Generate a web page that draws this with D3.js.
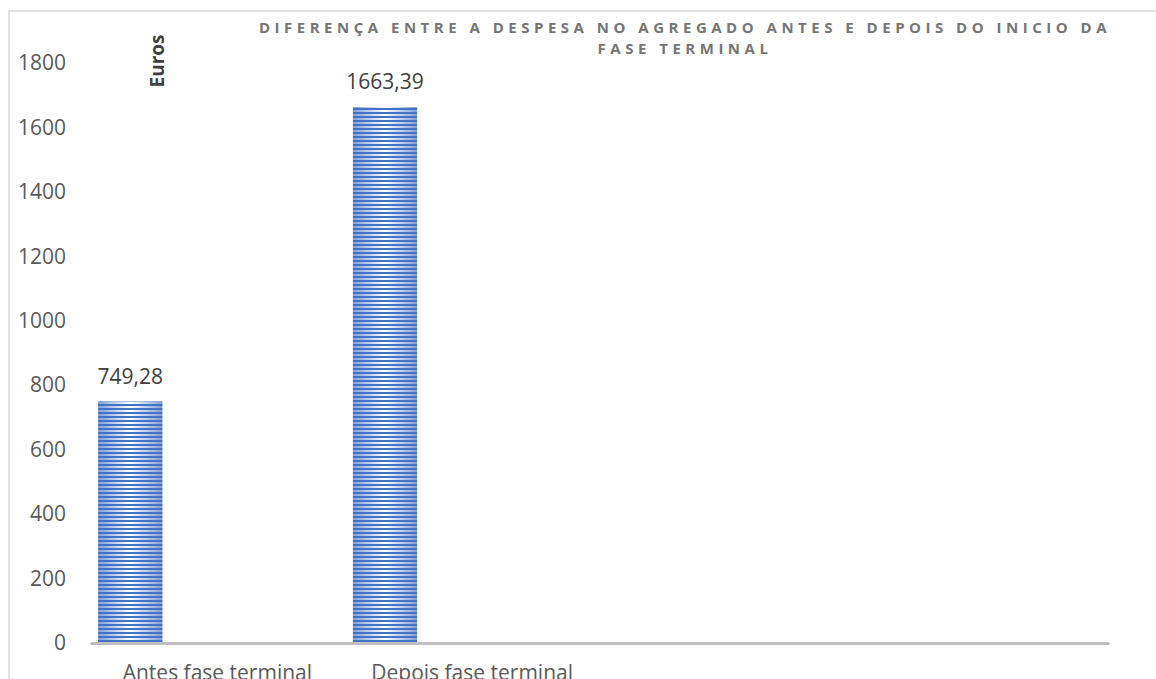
<!DOCTYPE html>
<html>
<head>
<meta charset="utf-8">
<script src="https://cdn.jsdelivr.net/npm/d3@7/dist/d3.min.js"></script>
<style>
    body { margin: 0; background: #ffffff; }
    svg { display: block; }
</style>
</head>
<body>
<div id="chart"></div>
<script>

// Chart data
var categories = ['Antes fase terminal', 'Depois fase terminal'];
var despesa = [749.28, 1663.39];
var yTicks = [0, 200, 400, 600, 800, 1000, 1200, 1400, 1600, 1800];
var titleLines = [
    'DIFERENÇA ENTRE A DESPESA NO AGREGADO ANTES E DEPOIS DO INICIO DA',
    'FASE TERMINAL'
];
var yLabel = 'Euros';

var width = 1156;
var height = 679;
var slotCount = 4;  // the category axis keeps room for four slots

var plot = {left: 90, right: 1109, top: 63, bottom: 643};

var ptBR = d3.formatLocale({decimal: ',', thousands: '.', grouping: [3], currency: ['', ' €']});
var fmtValue = ptBR.format('.2f');

/**
 * Add the striped fill used by the bars: a pale horizontal gradient
 * under thin dark blue stripes.
 */
function createBarFill(svg) {
    var defs = svg.append('defs');

    var grad = defs.append('linearGradient')
        .attr('id', 'barGlow')
        .attr('x1', 0).attr('x2', 1)
        .attr('y1', 0).attr('y2', 0);
    grad.append('stop').attr('offset', '0%').attr('stop-color', '#7f9fd8');
    grad.append('stop').attr('offset', '50%').attr('stop-color', '#ffffff');
    grad.append('stop').attr('offset', '100%').attr('stop-color', '#7f9fd8');

    var pattern = defs.append('pattern')
        .attr('id', 'barStripes')
        .attr('patternUnits', 'userSpaceOnUse')
        .attr('width', 8)
        .attr('height', 4);
    pattern.append('rect')
        .attr('y', 0)
        .attr('width', 8)
        .attr('height', 2)
        .attr('fill', '#4472c4');
}

var svg = d3.select('#chart').append('svg')
    .attr('width', width)
    .attr('height', height);

createBarFill(svg);

// chart area frame, it runs past the right and bottom edge of the picture
svg.append('rect')
    .attr('x', 9)
    .attr('y', 11)
    .attr('width', width + 20)
    .attr('height', height + 20)
    .attr('fill', '#ffffff')
    .attr('stroke', '#d9d9d9')
    .attr('stroke-width', 1.5);

var x = d3.scaleBand()
    .domain(d3.range(slotCount))
    .range([plot.left, plot.right]);

var y = d3.scaleLinear()
    .domain([0, 1800])
    .range([plot.bottom, plot.top]);

var barOffset = x.bandwidth() * 0.032;
var barWidth = x.bandwidth() * 0.252;

// value axis: labels only
var yAxis = svg.append('g')
    .attr('transform', 'translate(' + plot.left + ',0)')
    .call(d3.axisLeft(y)
        .tickValues(yTicks)
        .tickFormat(d3.format('d'))
        .tickSize(0)
        .tickPadding(24));
yAxis.select('.domain').remove();
yAxis.selectAll('text')
    .attr('fill', '#595959')
    .style('font-family', '"Open Sans", sans-serif')
    .style('font-size', '21px');

// bars
var bars = svg.append('g').attr('class', 'bars');
var barData = despesa.map(function (v, i) { return {i: i, v: v}; });

bars.selectAll('rect.glow')
    .data(barData)
  .enter().append('rect')
    .attr('class', 'glow')
    .attr('x', function (d) { return x(d.i) + barOffset; })
    .attr('y', function (d) { return y(d.v); })
    .attr('width', barWidth)
    .attr('height', function (d) { return y(0) - y(d.v); })
    .attr('fill', 'url(#barGlow)');

bars.selectAll('rect.stripes')
    .data(barData)
  .enter().append('rect')
    .attr('class', 'stripes')
    .attr('x', function (d) { return x(d.i) + barOffset; })
    .attr('y', function (d) { return y(d.v); })
    .attr('width', barWidth)
    .attr('height', function (d) { return y(0) - y(d.v); })
    .attr('fill', 'url(#barStripes)');

// data labels
bars.selectAll('text')
    .data(barData)
  .enter().append('text')
    .attr('x', function (d) { return x(d.i) + barOffset + barWidth / 2; })
    .attr('y', function (d) { return y(d.v) - 18; })
    .attr('text-anchor', 'middle')
    .attr('fill', '#404040')
    .style('font-family', '"Open Sans", sans-serif')
    .style('font-size', '21px')
    .text(function (d) { return fmtValue(d.v); });

// category axis
var xAxis = svg.append('g')
    .attr('transform', 'translate(0,' + plot.bottom + ')')
    .call(d3.axisBottom(x)
        .tickFormat(function (i) { return categories[i] || ''; })
        .tickSize(0)
        .tickSizeOuter(0)
        .tickPadding(22));
xAxis.select('.domain')
    .attr('stroke', '#bfbfbf')
    .attr('stroke-width', 3);
xAxis.selectAll('text')
    .attr('fill', '#595959')
    .style('font-family', '"Open Sans", sans-serif')
    .style('font-size', '21px');

// axis title
svg.append('text')
    .attr('transform', 'translate(164,61) rotate(-90)')
    .attr('text-anchor', 'middle')
    .attr('fill', '#404040')
    .style('font-family', '"Open Sans", sans-serif')
    .style('font-weight', 'bold')
    .style('font-size', '19px')
    .text(yLabel);

// chart title
svg.append('g').attr('class', 'title')
    .selectAll('text')
    .data(titleLines)
  .enter().append('text')
    .attr('x', 685)
    .attr('y', function (d, i) { return 33 + i * 21; })
    .attr('text-anchor', 'middle')
    .attr('fill', '#767676')
    .style('font-family', '"Open Sans", sans-serif')
    .style('font-weight', 'bold')
    .style('font-size', '15px')
    .style('letter-spacing', '4.5px')
    .text(function (d) { return d; });

</script>
</body>
</html>
